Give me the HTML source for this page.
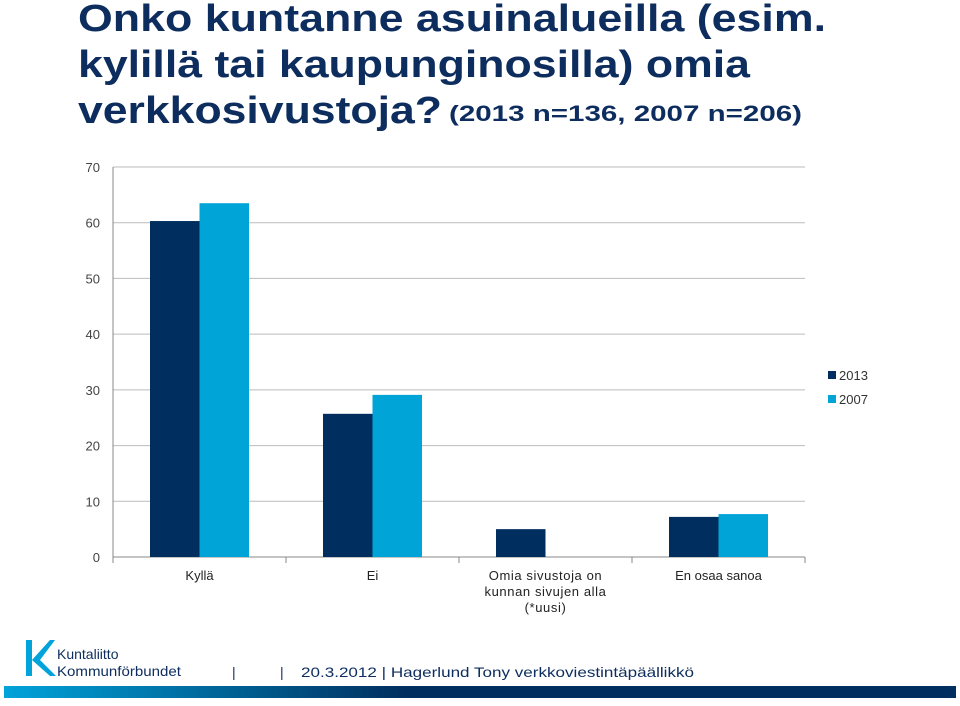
<!DOCTYPE html>
<html><head><meta charset="utf-8"><style>
body{margin:0;background:#fff;width:960px;height:701px;overflow:hidden;font-family:"Liberation Sans",sans-serif}
</style></head><body>
<svg id="chart" width="960" height="701" viewBox="0 0 960 701" xmlns="http://www.w3.org/2000/svg" font-family="Liberation Sans, sans-serif">
<defs><linearGradient id="fg" x1="0" x2="1" y1="0" y2="0"><stop offset="0" stop-color="#00a3da"/><stop offset="0.42" stop-color="#002f5f"/><stop offset="1" stop-color="#002f5f"/></linearGradient></defs>
<g fill="#0d2d5e" font-weight="bold" font-size="38">
<text x="78" y="31" textLength="748" lengthAdjust="spacingAndGlyphs">Onko kuntanne asuinalueilla (esim.</text>
<text x="78" y="77" textLength="672" lengthAdjust="spacingAndGlyphs">kylillä tai kaupunginosilla) omia</text>
<text x="78" y="123" textLength="364" lengthAdjust="spacingAndGlyphs">verkkosivustoja?</text>
<text x="449" y="121" font-size="22" textLength="353" lengthAdjust="spacingAndGlyphs">(2013 n=136, 2007 n=206)</text>
</g>
<g id="grid"></g>
<g id="bars"></g>
<g id="axes"></g>
<g font-size="13" fill="#333">
<rect x="828" y="371" width="8" height="8" fill="#002f5f"/>
<text x="839" y="380">2013</text>
<rect x="828" y="395" width="8" height="8" fill="#00a4d6"/>
<text x="839" y="404">2007</text>
</g>
<g>
<path d="M26 640 h6 v36 h-6z M32 660 L50 640 h5 L40 660 L56 676 h-6z" fill="#00a3da"/>
<text x="57" y="659" font-size="14" fill="#0d2d5e">Kuntaliitto</text>
<text x="57" y="676" font-size="14" fill="#0d2d5e" textLength="124" lengthAdjust="spacingAndGlyphs">Kommunförbundet</text>
<text x="232" y="677" font-size="14" fill="#0d2d5e">|</text>
<text x="280" y="677" font-size="14" fill="#0d2d5e">|</text>
<text x="301" y="677" font-size="14" fill="#0d2d5e" textLength="393" lengthAdjust="spacingAndGlyphs">20.3.2012   | Hagerlund Tony verkkoviestintäpäällikkö</text>
<rect x="4" y="686" width="952" height="12" fill="url(#fg)"/>
</g>
</svg>
<script>
const categories=["Kyllä","Ei","Omia sivustoja on|kunnan sivujen alla|(*uusi)","En osaa sanoa"];
const series2013=[60.3,25.7,5.0,7.2];
const series2007=[63.5,29.1,null,7.7];
const yTicks=[0,10,20,30,40,50,60,70];
const ns="http://www.w3.org/2000/svg";
const L=113,R=805,T=167,B=557,YMAX=70;
const y=v=>B-(v/YMAX)*(B-T);
const bw=(R-L)/categories.length;
const x=i=>L+i*bw;
function mk(tag,attrs,parent){const e=document.createElementNS(ns,tag);for(const k in attrs)e.setAttribute(k,attrs[k]);parent.appendChild(e);return e;}
const grid=document.getElementById('grid'),bars=document.getElementById('bars'),axes=document.getElementById('axes');
yTicks.forEach(t=>{
 const ln=mk('line',{x1:L,x2:R,y1:y(t),y2:y(t),stroke:t===0?'#888':'#bbb','stroke-width':1},grid);
 
 
 const tx=mk('text',{x:100,y:y(t)+5,'text-anchor':'end','font-size':13,fill:'#444'},axes);
 tx.textContent=t;
 
 
});
const ax=mk('line',{x1:L,x2:L,y1:T,y2:B,stroke:'#888'},axes);


categories.forEach((c,i)=>{
 const tk=mk('line',{x1:x(i),x2:x(i),y1:B,y2:B+6,stroke:'#888'},axes);
 
 
 const cx=x(i)+bw/2,w=49.5;
 [[series2013[i],'#002f5f',cx-w,'2013'],[series2007[i],'#00a4d6',cx,'2007']].forEach(([v,col,bx,s])=>{
  if(v==null)return;
  const r=mk('rect',{x:bx,y:y(v),width:w,height:B-y(v),fill:col},bars);
  
  
 });
 c.split('|').forEach((ln,j)=>{
  const t=mk('text',{x:cx,y:580+j*16,'text-anchor':'middle','font-size':13,fill:'#222','letter-spacing':i==2?'0.6':'0'},axes);
  t.textContent=ln;
  
  
 });
});
const tk=mk('line',{x1:R,x2:R,y1:B,y2:B+6,stroke:'#888'},axes);


</script>
</body></html>
